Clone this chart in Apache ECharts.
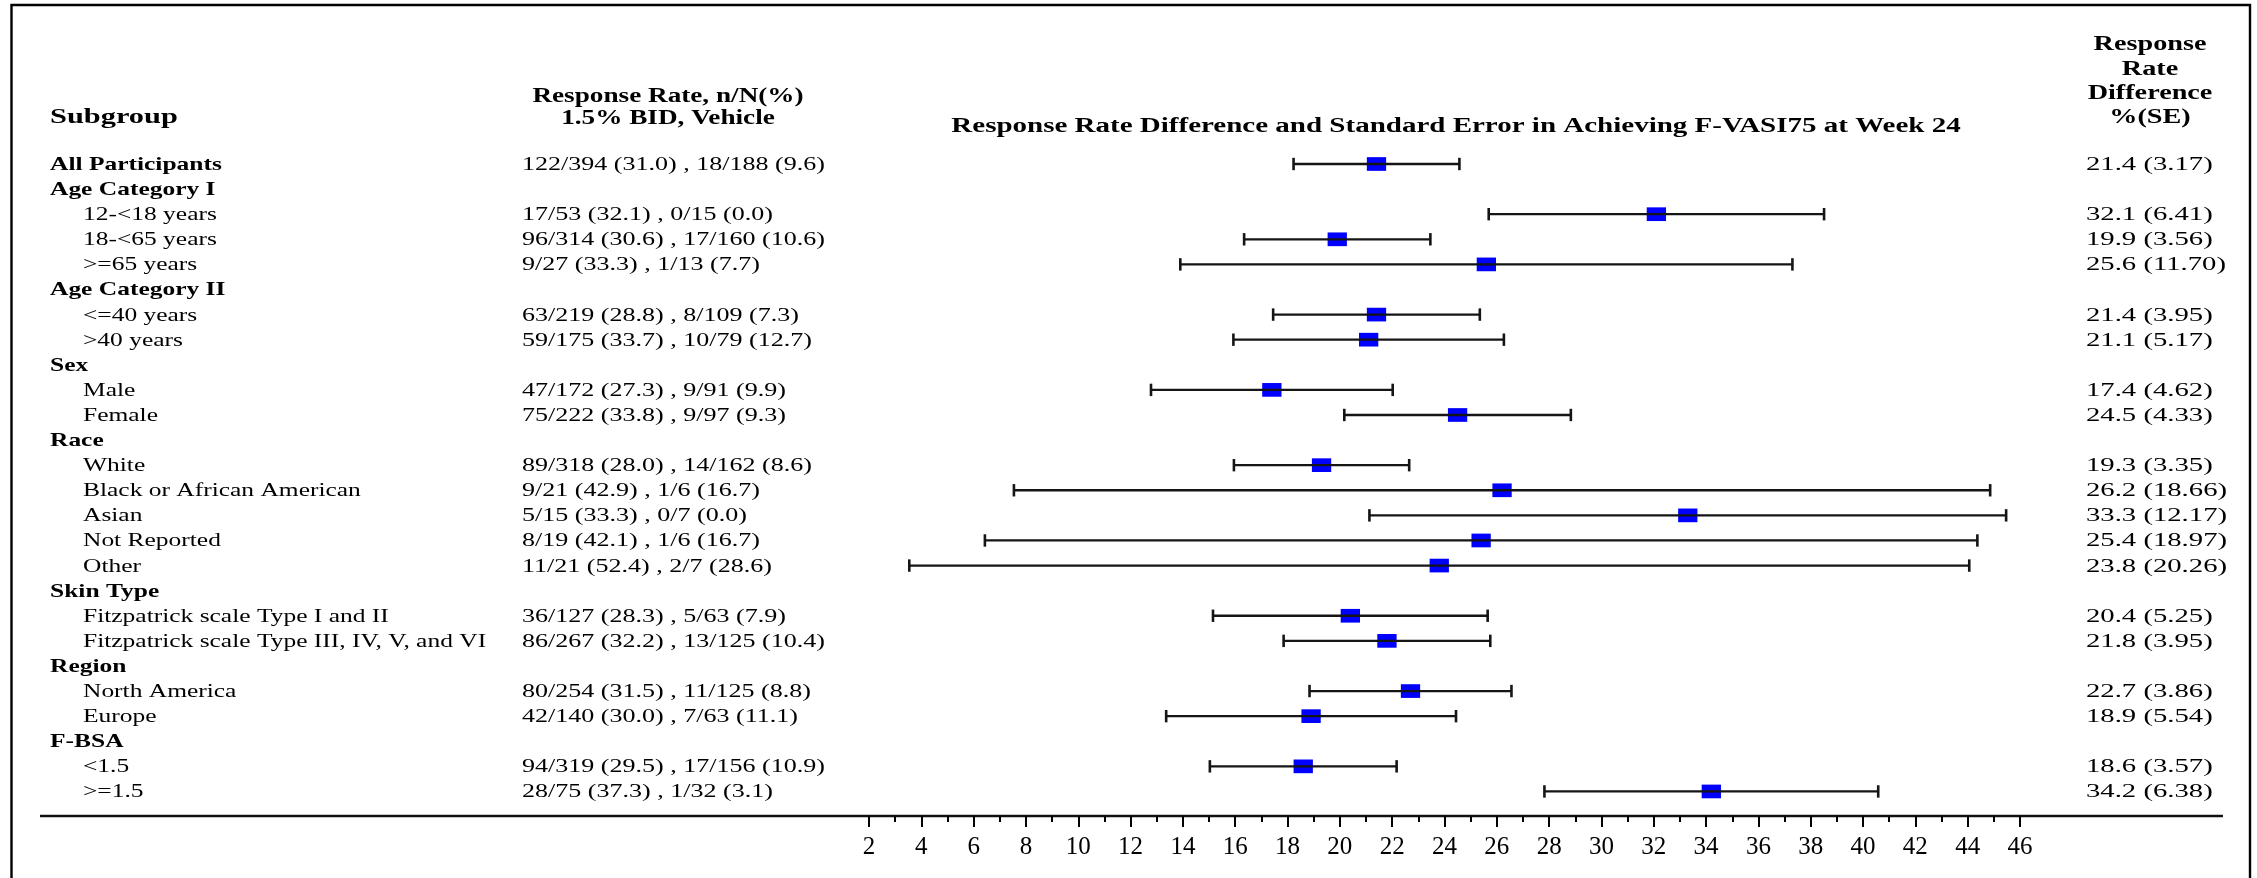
<!DOCTYPE html>
<html>
<head>
<meta charset="utf-8">
<script src="https://cdn.jsdelivr.net/npm/echarts@6/dist/echarts.min.js"></script>
<style>html,body{margin:0;padding:0;background:#fff}#chart{width:2257px;height:878px}</style>
</head>
<body>
<div id="chart"></div>
<script>
// ---- data ----
const rowLabels = ['All Participants','Age Category I','12-<18 years','18-<65 years','>=65 years','Age Category II','<=40 years','>40 years','Sex','Male','Female','Race','White','Black or African American','Asian','Not Reported','Other','Skin Type','Fitzpatrick scale Type I and II','Fitzpatrick scale Type III, IV, V, and VI','Region','North America','Europe','F-BSA','<1.5','>=1.5'];
const rowIsHeading = [true,true,false,false,false,true,false,false,true,false,false,true,false,false,false,false,false,true,false,false,true,false,false,true,false,false];
const rowIsIndented = [false,false,true,true,true,false,true,true,false,true,true,false,true,true,true,true,true,false,true,true,false,true,true,false,true,true];
const rateTexts = ['122/394 (31.0) , 18/188 (9.6)','','17/53 (32.1) , 0/15 (0.0)','96/314 (30.6) , 17/160 (10.6)','9/27 (33.3) , 1/13 (7.7)','','63/219 (28.8) , 8/109 (7.3)','59/175 (33.7) , 10/79 (12.7)','','47/172 (27.3) , 9/91 (9.9)','75/222 (33.8) , 9/97 (9.3)','','89/318 (28.0) , 14/162 (8.6)','9/21 (42.9) , 1/6 (16.7)','5/15 (33.3) , 0/7 (0.0)','8/19 (42.1) , 1/6 (16.7)','11/21 (52.4) , 2/7 (28.6)','','36/127 (28.3) , 5/63 (7.9)','86/267 (32.2) , 13/125 (10.4)','','80/254 (31.5) , 11/125 (8.8)','42/140 (30.0) , 7/63 (11.1)','','94/319 (29.5) , 17/156 (10.9)','28/75 (37.3) , 1/32 (3.1)'];
const diffValues = [21.4,null,32.1,19.9,25.6,null,21.4,21.1,null,17.4,24.5,null,19.3,26.2,33.3,25.4,23.8,null,20.4,21.8,null,22.7,18.9,null,18.6,34.2];
const seValues = [3.17,null,6.41,3.56,11.70,null,3.95,5.17,null,4.62,4.33,null,3.35,18.66,12.17,18.97,20.26,null,5.25,3.95,null,3.86,5.54,null,3.57,6.38];
const xMin = 2, xMax = 46, xStep = 2;
const headerSubgroup = 'Subgroup';
const headerRate = ['Response Rate, n/N(%)', '1.5% BID, Vehicle'];
const headerTitle = 'Response Rate Difference and Standard Error in Achieving F-VASI75 at Week 24';
const headerDiff = ['Response', 'Rate', 'Difference', '%(SE)'];

// ---- styling ----
const FF = '"Liberation Serif", "Times New Roman", serif';
const FS = 19;
const fontReg = FS + 'px ' + FF;
const fontBold = 'bold ' + FS + 'px ' + FF;
const fontHead = 'bold 20px ' + FF;

const barData = [];
diffValues.forEach((d, i) => { if (d !== null) barData.push([d, i, seValues[i]]); });
const textData = rowLabels.map((l, i) => [xMin, i]);

function txt(x, y, s, font, align, scale) {
  return { type: 'text', x: x, y: y, scaleX: scale,
    style: { text: s, font: font, fill: '#000', align: align, textAlign: align, verticalAlign: 'middle', textVerticalAlign: 'middle' } };
}

function renderBar(params, api) {
  const d = api.value(0), row = api.value(1), se = api.value(2);
  const c = api.coord([d, row]);
  const lo = api.coord([d - se, row]);
  const hi = api.coord([d + se, row]);
  const w = 19.3, h = 13.7, cap = 6.2;
  return { type: 'group', children: [
    { type: 'rect', shape: { x: c[0] - w / 2, y: c[1] - h / 2, width: w, height: h }, style: { fill: '#0000ff' } },
    { type: 'line', shape: { x1: lo[0], y1: c[1], x2: hi[0], y2: c[1] }, style: { stroke: '#151515', lineWidth: 2.3 } },
    { type: 'line', shape: { x1: lo[0], y1: c[1] - cap, x2: lo[0], y2: c[1] + cap }, style: { stroke: '#151515', lineWidth: 2.6 } },
    { type: 'line', shape: { x1: hi[0], y1: c[1] - cap, x2: hi[0], y2: c[1] + cap }, style: { stroke: '#151515', lineWidth: 2.6 } }
  ]};
}

function renderRowText(params, api) {
  const row = api.value(1);
  const y = api.coord([xMin, row])[1] + 1;
  const i = row;
  const kids = [];
  const bold = rowIsHeading[i] || i === 0;
  kids.push(txt(rowIsIndented[i] ? 83 : 50, y, rowLabels[i], bold ? fontBold : fontReg, 'left', 1.34));
  if (rateTexts[i]) kids.push(txt(522, y, rateTexts[i], fontReg, 'left', 1.37));
  if (diffValues[i] !== null) {
    kids.push(txt(2086, y, diffValues[i].toFixed(1) + ' (' + seValues[i].toFixed(2) + ')', fontReg, 'left', 1.51));
  }
  return { type: 'group', children: kids };
}

const chart = echarts.init(document.getElementById('chart'), null, { renderer: 'canvas' });
chart.setOption({
  backgroundColor: '#fff',
  animation: false,
  grid: { left: 869, right: 237, top: 151.45, bottom: 74, containLabel: false },
  xAxis: {
    type: 'value', min: xMin, max: xMax, interval: xStep, offset: 12,
    axisLine: { show: false },
    axisTick: { show: true, length: 11, lineStyle: { color: '#000', width: 2 } },
    minorTick: { show: true, splitNumber: 2, length: 6, lineStyle: { color: '#000', width: 2 } },
    splitLine: { show: false },
    axisLabel: { fontFamily: FF, fontSize: 25, color: '#000', margin: 19 }
  },
  yAxis: { type: 'category', data: rowLabels, inverse: true, show: false },
  graphic: [
    { type: 'polyline', shape: { points: [[11.5, 900], [11.5, 5], [2250, 5], [2250, 900]] }, style: { stroke: '#000', lineWidth: 2.4, fill: null } },
    { type: 'line', shape: { x1: 40, y1: 816, x2: 2223, y2: 816 }, style: { stroke: '#111', lineWidth: 2.4 } },
    txt(50, 118, headerSubgroup, fontHead, 'left', 1.52),
    txt(668, 97, headerRate[0], fontHead, 'center', 1.36),
    txt(668, 119, headerRate[1], fontHead, 'center', 1.36),
    txt(1456, 127, headerTitle, fontHead, 'center', 1.45),
    txt(2150, 45, headerDiff[0], fontHead, 'center', 1.41),
    txt(2150, 70, headerDiff[1], fontHead, 'center', 1.41),
    txt(2150, 94, headerDiff[2], fontHead, 'center', 1.41),
    txt(2150, 118, headerDiff[3], fontHead, 'center', 1.41)
  ],
  series: [
    { type: 'custom', name: 'Response Rate Difference', data: barData, encode: { x: 0, y: 1 }, renderItem: renderBar, clip: false, z: 3 },
    { type: 'custom', name: 'Row text', data: textData, encode: { x: 0, y: 1 }, renderItem: renderRowText, clip: false, silent: true, z: 2 }
  ]
});
</script>
</body>
</html>
